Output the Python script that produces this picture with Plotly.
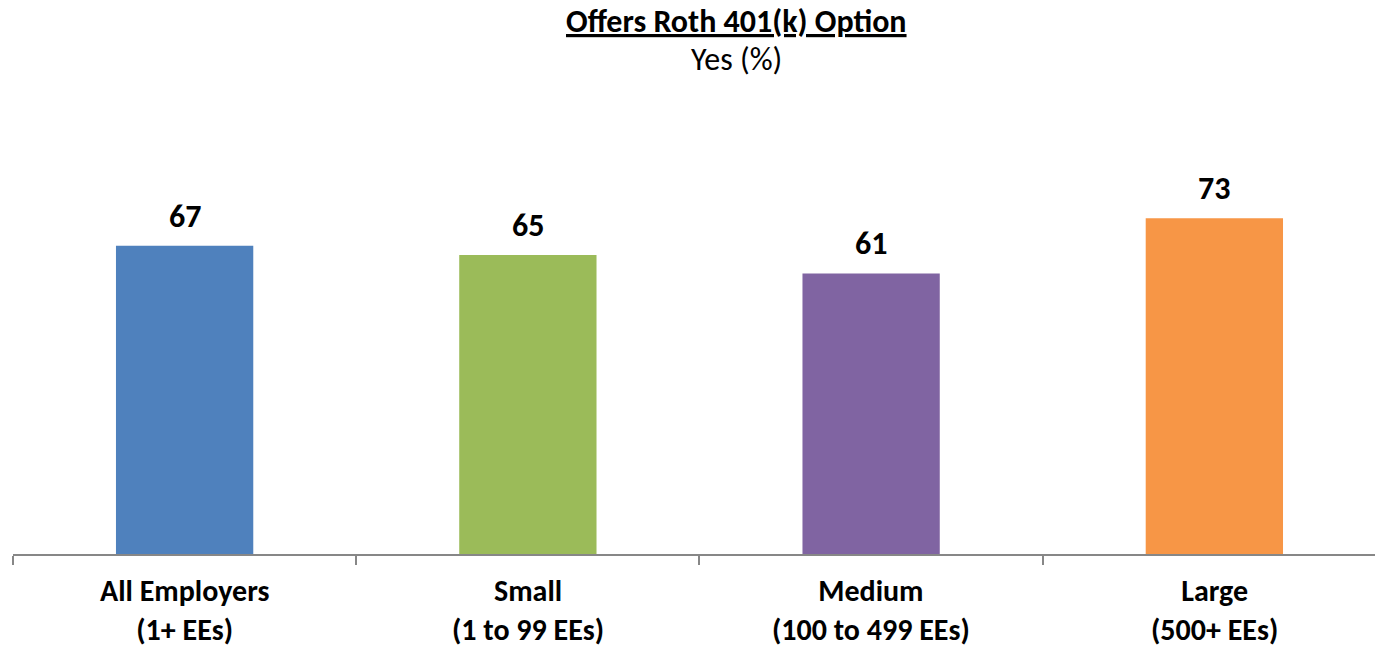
import plotly.graph_objects as go

# Employer size groups and share offering a Roth 401(k) option
groups = ["All Employers", "Small", "Medium", "Large"]
sublabels = ["(1+ EEs)", "(1 to 99 EEs)", "(100 to 499 EEs)", "(500+ EEs)"]
values = [67, 65, 61, 73]
colors = ["#4F81BD", "#9BBB59", "#8064A2", "#F79646"]

FONT = "Carlito, Lato, 'Liberation Sans', sans-serif"
SIZE = 32
x = list(range(len(groups)))
# tick marks sit on the boundaries between categories
boundaries = [i - 0.5 for i in range(len(groups) + 1)]

H = 650
TOP = 100
BOTTOM = 554
plot_h = BOTTOM - TOP

fig = go.Figure(
    go.Bar(
        x=x,
        y=values,
        width=0.40,
        marker=dict(color=colors, line=dict(width=0)),
        hoverinfo="skip",
    )
)

annotations = []
# value labels above each bar
for xi, v in zip(x, values):
    annotations.append(dict(
        x=xi, y=v, xref="x", yref="y", text=f"<b>{v}</b>",
        showarrow=False, yanchor="bottom", yshift=8,
        font=dict(family=FONT, size=SIZE, color="#000000"),
    ))
# two-line category labels below the axis
for xi, g, s in zip(x, groups, sublabels):
    annotations.append(dict(
        x=xi, y=0, xref="x", yref="y", text=f"<b>{g}<br>{s}</b>",
        showarrow=False, yanchor="bottom", yshift=-(H - BOTTOM) + 1,
        borderpad=0,
        font=dict(family=FONT, size=30, color="#000000"),
    ))


def paper_y(px):
    # pixel row from the top of the page -> paper coordinate
    return 1 + (TOP - px) / plot_h


# chart heading
annotations.append(dict(
    x=0.531, y=paper_y(21), xref="paper", yref="paper", yanchor="middle",
    text="<b><u>Offers Roth 401(k) Option</u></b>", showarrow=False,
    font=dict(family=FONT, size=SIZE, color="#000000"),
))
annotations.append(dict(
    x=0.531, y=paper_y(60), xref="paper", yref="paper", yanchor="middle",
    text="Yes (%)", showarrow=False,
    font=dict(family=FONT, size=SIZE, color="#000000"),
))

fig.update_layout(
    width=1375,
    height=H,
    margin=dict(l=13, r=0, t=TOP, b=H - BOTTOM, pad=0),
    paper_bgcolor="#FFFFFF",
    plot_bgcolor="#FFFFFF",
    showlegend=False,
    annotations=annotations,
    xaxis=dict(
        range=[-0.5, 3.468],
        tickmode="array",
        tickvals=boundaries,
        ticktext=[""] * len(boundaries),
        ticks="outside",
        ticklen=9,
        tickwidth=2,
        tickcolor="#878787",
        showline=True,
        linecolor="#878787",
        linewidth=2,
        showgrid=False,
        zeroline=False,
        fixedrange=True,
    ),
    yaxis=dict(
        range=[0, plot_h / 4.6],
        visible=False,
        showgrid=False,
        zeroline=False,
        fixedrange=True,
    ),
)

fig.write_html("out.html", config={"displayModeBar": False})
